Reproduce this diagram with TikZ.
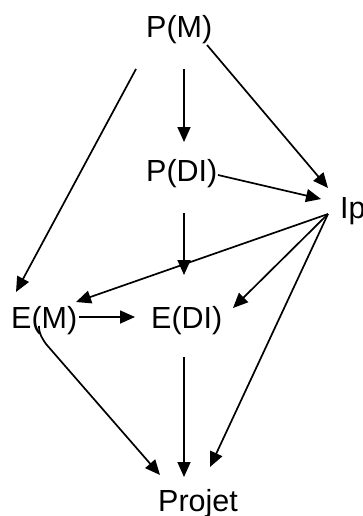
\documentclass[tikz,border=0pt]{standalone}
\usepackage{fontspec}
\setmainfont{Liberation Sans}
\usetikzlibrary{arrows.meta}
\begin{document}
\begin{tikzpicture}[x=1pt,y=-1pt,
  lbl/.style={inner sep=0pt,anchor=base west,font=\fontsize{30.5}{36}\selectfont},
  arr/.style={line width=1.7pt,-{Triangle[length=15pt,width=13pt]}}]
\useasboundingbox (0,0) rectangle (363,516);
\node[lbl] (pm)  at (146,38)  {P(M)};
\node[lbl] (pdi) at (146,181) {P(DI)};
\node[lbl] (ip)  at (340,218) {Ip};
\node[lbl] (em)  at (11,328)  {E(M)};
\node[lbl] (edi) at (151,328) {E(DI)};
\node[lbl] (pj)  at (158,511) {Projet};
% connectors
\draw[arr] ([shift={(38,31)}]pm.base west) -- ([shift={(38,-39)}]pdi.base west);
\draw[arr] ([shift={(61,7)}]pm.base west) -- ([shift={(-12,-30)}]ip.base west);
\draw[arr] ([shift={(-10,31)}]pm.base west) -- ([shift={(5,-36)}]em.base west);
\draw[arr] ([shift={(72,-6)}]pdi.base west) -- ([shift={(-19,-19)}]ip.base west);
\draw[arr] ([shift={(38,32)}]pdi.base west) -- ([shift={(33,-53)}]edi.base west);
\draw[arr] ([shift={(-12,-4)}]ip.base west) -- ([shift={(65,-26)}]em.base west);
\draw[arr] ([shift={(-12,-4)}]ip.base west) -- ([shift={(82,-20)}]edi.base west);
\draw[arr] ([shift={(-12,-4)}]ip.base west) -- ([shift={(52,-44)}]pj.base west);
\draw[arr] ([shift={(68,-11)}]em.base west) -- ([shift={(-16,-11)}]edi.base west);
\draw[arr] ([shift={(28,-2)}]em.base west) .. controls ([shift={(28,6)}]em.base west) and ([shift={(31,10)}]em.base west) .. ([shift={(35,16)}]em.base west) -- ([shift={(2,-36)}]pj.base west);
\draw[arr] ([shift={(33,29)}]edi.base west) -- ([shift={(26,-34)}]pj.base west);
\end{tikzpicture}
\end{document}
